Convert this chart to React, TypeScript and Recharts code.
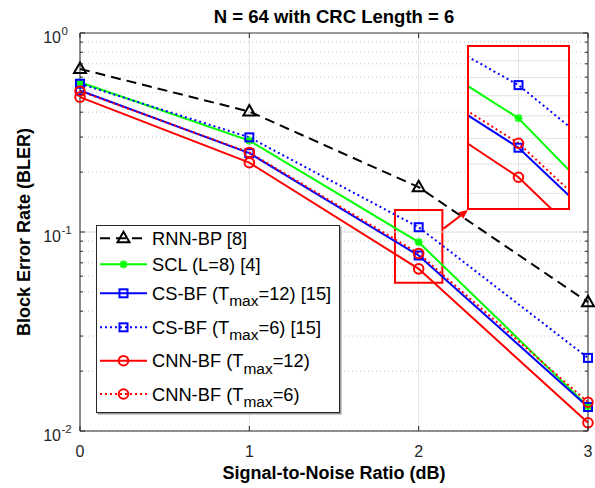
import React from 'react';
import { LineChart, Line, XAxis, YAxis, CartesianGrid, ReferenceArea, ReferenceLine } from 'recharts';

// ---------- data ----------
const snrDb = [0, 1, 2, 3];
const rnnBp = [0.66, 0.403, 0.168, 0.0444];
const scl = [0.566, 0.288, 0.0889, 0.0133];
const csBf12 = [0.514, 0.249, 0.0762, 0.0132];
const csBf6 = [0.556, 0.299, 0.1057, 0.0233];
const cnnBf12 = [0.476, 0.223, 0.0653, 0.011];
const cnnBf6 = [0.51, 0.251, 0.078, 0.01395];

const xTicks = [0, 1, 2, 3];
const yMajorTicks = [0.01, 0.1, 1];
const yMajorExponents = ['-2', '-1', '0'];
const yMinorTicks = [0.02, 0.03, 0.04, 0.05, 0.06, 0.07, 0.08, 0.09, 0.2, 0.3, 0.4, 0.5, 0.6, 0.7, 0.8, 0.9];
const yAllTicks = [...yMajorTicks, ...yMinorTicks].sort((a, b) => a - b);

const zoomXDomain = [1.86, 2.14];
const zoomYDomain = [0.0556, 0.129];
const insetGridY = [0.06, 0.07, 0.08, 0.09, 0.1, 0.11, 0.12];
const arrowFrom = { x: 2.147, y: 0.104 };
const arrowTo = { x: 2.291, y: 0.129 };

const titleText = 'N = 64 with CRC Length = 6';
const xLabelText = 'Signal-to-Noise Ratio (dB)';
const yLabelText = 'Block Error Rate (BLER)';

const data = snrDb.map((x, i) => ({
  snr: x,
  rnnBp: rnnBp[i],
  scl: scl[i],
  csBf12: csBf12[i],
  csBf6: csBf6[i],
  cnnBf12: cnnBf12[i],
  cnnBf6: cnnBf6[i],
}));

type Series = {
  key: string;
  pre: string;
  sub?: string;
  post?: string;
  color: string;
  dash?: string;
  marker: string;
};

const series: Series[] = [
  { key: 'rnnBp', pre: 'RNN-BP [8]', color: '#000000', dash: '10 6', marker: 'triangle' },
  { key: 'scl', pre: 'SCL (L=8) [4]', color: '#00ff00', marker: 'star' },
  { key: 'csBf12', pre: 'CS-BF (T', sub: 'max', post: '=12) [15]', color: '#0000ff', marker: 'square' },
  { key: 'csBf6', pre: 'CS-BF (T', sub: 'max', post: '=6) [15]', color: '#0000ff', dash: '2 3', marker: 'square' },
  { key: 'cnnBf12', pre: 'CNN-BF (T', sub: 'max', post: '=12)', color: '#ff0000', marker: 'circle' },
  { key: 'cnnBf6', pre: 'CNN-BF (T', sub: 'max', post: '=6)', color: '#ff0000', dash: '2 3', marker: 'circle' },
];

// ---------- layout ----------
const W = 595;
const H = 488;
const MARGIN = { top: 33, right: 7, left: 0, bottom: 0 };
const Y_AXIS_W = 80;
const X_AXIS_H = 57;
const PLOT_LEFT = MARGIN.left + Y_AXIS_W;
const PLOT_RIGHT = W - MARGIN.right;
const PLOT_TOP = MARGIN.top;
const PLOT_BOTTOM = H - X_AXIS_H;
const AXIS = '#262626';
const FONT = '"Liberation Sans", Arial, Helvetica, sans-serif';

const INSET = { left: 467, top: 45, width: 103, height: 165, border: 2 };

const LEGEND = { left: 96, top: 225, width: 244, height: 188 };
const legendRowY = [13.3, 39.3, 68.3, 102.3, 135.7, 169];

// ---------- marks ----------
const Marker = ({ kind, cx, cy, color }: any) => {
  if (cx == null || cy == null || isNaN(cx) || isNaN(cy)) return <g />;
  switch (kind) {
    case 'triangle':
      return (
        <polygon
          points={`${cx},${cy - 6.5} ${cx + 6},${cy + 4} ${cx - 6},${cy + 4}`}
          fill="none"
          stroke={color}
          strokeWidth={2}
        />
      );
    case 'square':
      return <rect x={cx - 4} y={cy - 4} width={8} height={8} fill="none" stroke={color} strokeWidth={2} />;
    case 'circle':
      return <circle cx={cx} cy={cy} r={4.8} fill="none" stroke={color} strokeWidth={2} />;
    case 'star': {
      const r = 4;
      const d = 2.9;
      return (
        <g stroke={color} strokeWidth={2}>
          <line x1={cx - r} y1={cy} x2={cx + r} y2={cy} />
          <line x1={cx} y1={cy - r} x2={cx} y2={cy + r} />
          <line x1={cx - d} y1={cy - d} x2={cx + d} y2={cy + d} />
          <line x1={cx - d} y1={cy + d} x2={cx + d} y2={cy - d} />
        </g>
      );
    }
    default:
      return <g />;
  }
};

const renderLines = (prefix: string) =>
  series.map((s) => (
    <Line
      key={prefix + s.key}
      type="linear"
      dataKey={s.key}
      stroke={s.color}
      strokeWidth={2}
      strokeDasharray={s.dash}
      isAnimationActive={false}
      dot={(p: any) => (
        <Marker key={`${prefix}${s.key}-${p.index}`} kind={s.marker} cx={p.cx} cy={p.cy} color={s.color} />
      )}
      activeDot={false}
      legendType="none"
    />
  ));

// ---------- axes ----------
const YTick = (props: any) => {
  const { y, payload } = props;
  const v = payload.value;
  const mi = yMajorTicks.indexOf(v);
  const major = mi >= 0;
  const len = major ? 5 : 3;
  return (
    <g>
      <line x1={PLOT_LEFT} x2={PLOT_LEFT + len} y1={y} y2={y} stroke={AXIS} />
      <line x1={PLOT_RIGHT} x2={PLOT_RIGHT - len} y1={y} y2={y} stroke={AXIS} />
      {major && (
        <text x={PLOT_LEFT - 19} y={y + 10} textAnchor="end" fontSize={16} fill={AXIS} fontFamily={FONT}>
          10
        </text>
      )}
      {major && (
        <text x={PLOT_LEFT - 18.5} y={y + 2.3} textAnchor="start" fontSize={11.5} fill={AXIS} fontFamily={FONT}>
          {yMajorExponents[mi]}
        </text>
      )}
    </g>
  );
};

const XTick = (props: any) => {
  const { x, payload } = props;
  return (
    <g>
      <line x1={x} x2={x} y1={PLOT_BOTTOM} y2={PLOT_BOTTOM - 5} stroke={AXIS} />
      <line x1={x} x2={x} y1={PLOT_TOP} y2={PLOT_TOP + 5} stroke={AXIS} />
      <text x={x} y={PLOT_BOTTOM + 25.5} textAnchor="middle" fontSize={16} fill={AXIS} fontFamily={FONT}>
        {payload.value}
      </text>
    </g>
  );
};

const ArrowShape = (props: any) => {
  const { x1, y1, x2, y2 } = props;
  if ([x1, y1, x2, y2].some((v) => v == null || isNaN(v))) return <g />;
  const ang = Math.atan2(y2 - y1, x2 - x1);
  const L = 9;
  const hw = 4;
  const bx = x2 - L * Math.cos(ang);
  const by = y2 - L * Math.sin(ang);
  const px = -Math.sin(ang) * hw;
  const py = Math.cos(ang) * hw;
  return (
    <g>
      <line x1={x1} y1={y1} x2={bx} y2={by} stroke="#ff0000" strokeWidth={2} />
      <polygon points={`${x2},${y2} ${bx + px},${by + py} ${bx - px},${by - py}`} fill="#ff0000" />
    </g>
  );
};

const dottedH = (p: any) => (
  <line key={p.key} x1={p.x1} y1={p.y1} x2={p.x2} y2={p.y2} stroke="#c4c4c4" strokeWidth={1} strokeDasharray="1 3" />
);
const solidV = (p: any) => (
  <line key={p.key} x1={p.x1} y1={p.y1} x2={p.x2} y2={p.y2} stroke="#e2e2e2" strokeWidth={1} />
);

// ---------- legend ----------
const LegendBox = () => (
  <svg
    width={LEGEND.width + 2}
    height={LEGEND.height + 2}
    style={{ position: 'absolute', left: LEGEND.left, top: LEGEND.top, overflow: 'visible' }}
  >
    <rect x={1.5} y={1.5} width={LEGEND.width} height={LEGEND.height} fill="#9a9a9a" />
    <rect x={0.5} y={0.5} width={LEGEND.width - 1} height={LEGEND.height - 1} fill="#ffffff" stroke={AXIS} />
    {series.map((s, i) => {
      const ry = legendRowY[i];
      return (
        <g key={s.key}>
          <line x1={4} x2={51} y1={ry} y2={ry} stroke={s.color} strokeWidth={2} strokeDasharray={s.dash} />
          <Marker kind={s.marker} cx={27.5} cy={ry} color={s.color} />
          <text x={56} y={ry + 6.5} fontSize={18.3} fill="#000" fontFamily={FONT}>
            {s.pre}
            {s.sub && (
              <tspan fontSize={15.5} dy={6.5}>
                {s.sub}
              </tspan>
            )}
            {s.post && <tspan dy={s.sub ? -6.5 : 0}>{s.post}</tspan>}
          </text>
        </g>
      );
    })}
  </svg>
);

const Overlay = () => (
  <svg width={W} height={H} style={{ position: 'absolute', left: 0, top: 0, pointerEvents: 'none' }}>
    <text
      x={(PLOT_LEFT + PLOT_RIGHT) / 2}
      y={23}
      textAnchor="middle"
      fontSize={18.5}
      fontWeight="bold"
      fill="#000"
      fontFamily={FONT}
    >
      {titleText}
    </text>
    <text
      x={(PLOT_LEFT + PLOT_RIGHT) / 2}
      y={479}
      textAnchor="middle"
      fontSize={18}
      fontWeight="bold"
      fill="#000"
      fontFamily={FONT}
    >
      {xLabelText}
    </text>
    <text
      transform={`translate(30, ${(PLOT_TOP + PLOT_BOTTOM) / 2}) rotate(-90)`}
      textAnchor="middle"
      fontSize={18}
      fontWeight="bold"
      fill="#000"
      fontFamily={FONT}
    >
      {yLabelText}
    </text>
  </svg>
);

// ---------- app ----------
export default function App() {
  return (
    <div style={{ position: 'absolute', left: 0, top: 0, width: W, height: H, background: '#fff' }}>
      <LineChart width={W} height={H} data={data} margin={MARGIN}>
        <CartesianGrid horizontal={dottedH} vertical={solidV} />
        <XAxis
          dataKey="snr"
          type="number"
          domain={[0, 3]}
          ticks={xTicks}
          interval={0}
          height={X_AXIS_H}
          tickSize={0}
          tickLine={false}
          tick={<XTick />}
          axisLine={{ stroke: AXIS }}
        />
        <YAxis
          type="number"
          scale="log"
          domain={[0.01, 1]}
          ticks={yAllTicks}
          interval={0}
          width={Y_AXIS_W}
          tickSize={0}
          tickLine={false}
          tick={<YTick />}
          axisLine={{ stroke: AXIS }}
        />
        <ReferenceLine y={0.1} stroke="#e2e2e2" ifOverflow="visible" />
        <ReferenceLine y={1} stroke="#7a7a7a" strokeWidth={1.5} ifOverflow="visible" />
        <ReferenceLine x={3} stroke={AXIS} ifOverflow="visible" />
        {renderLines('m-')}
        <ReferenceArea
          x1={zoomXDomain[0]}
          x2={zoomXDomain[1]}
          y1={zoomYDomain[0]}
          y2={zoomYDomain[1]}
          fill="none"
          fillOpacity={0}
          stroke="#ff0000"
          strokeWidth={2}
          ifOverflow="visible"
        />
        <ReferenceLine segment={[arrowFrom, arrowTo]} shape={ArrowShape} ifOverflow="visible" />
      </LineChart>

      <div
        style={{
          position: 'absolute',
          left: INSET.left,
          top: INSET.top,
          width: INSET.width,
          height: INSET.height,
          border: `${INSET.border}px solid #ff0000`,
          boxSizing: 'border-box',
          background: '#fff',
        }}
      >
        <LineChart
          width={INSET.width - 2 * INSET.border}
          height={INSET.height - 2 * INSET.border}
          data={data}
          margin={{ top: 0, right: 0, bottom: 0, left: 0 }}
        >
          <XAxis dataKey="snr" type="number" domain={zoomXDomain} allowDataOverflow hide />
          <YAxis type="number" scale="log" domain={zoomYDomain} allowDataOverflow hide />
          {insetGridY.map((v) => (
            <ReferenceLine key={`ig-${v}`} y={v} stroke="#e2e2e2" />
          ))}
          <ReferenceLine x={2} stroke="#e2e2e2" />
          {renderLines('i-')}
        </LineChart>
      </div>

      <LegendBox />
      <Overlay />
    </div>
  );
}
